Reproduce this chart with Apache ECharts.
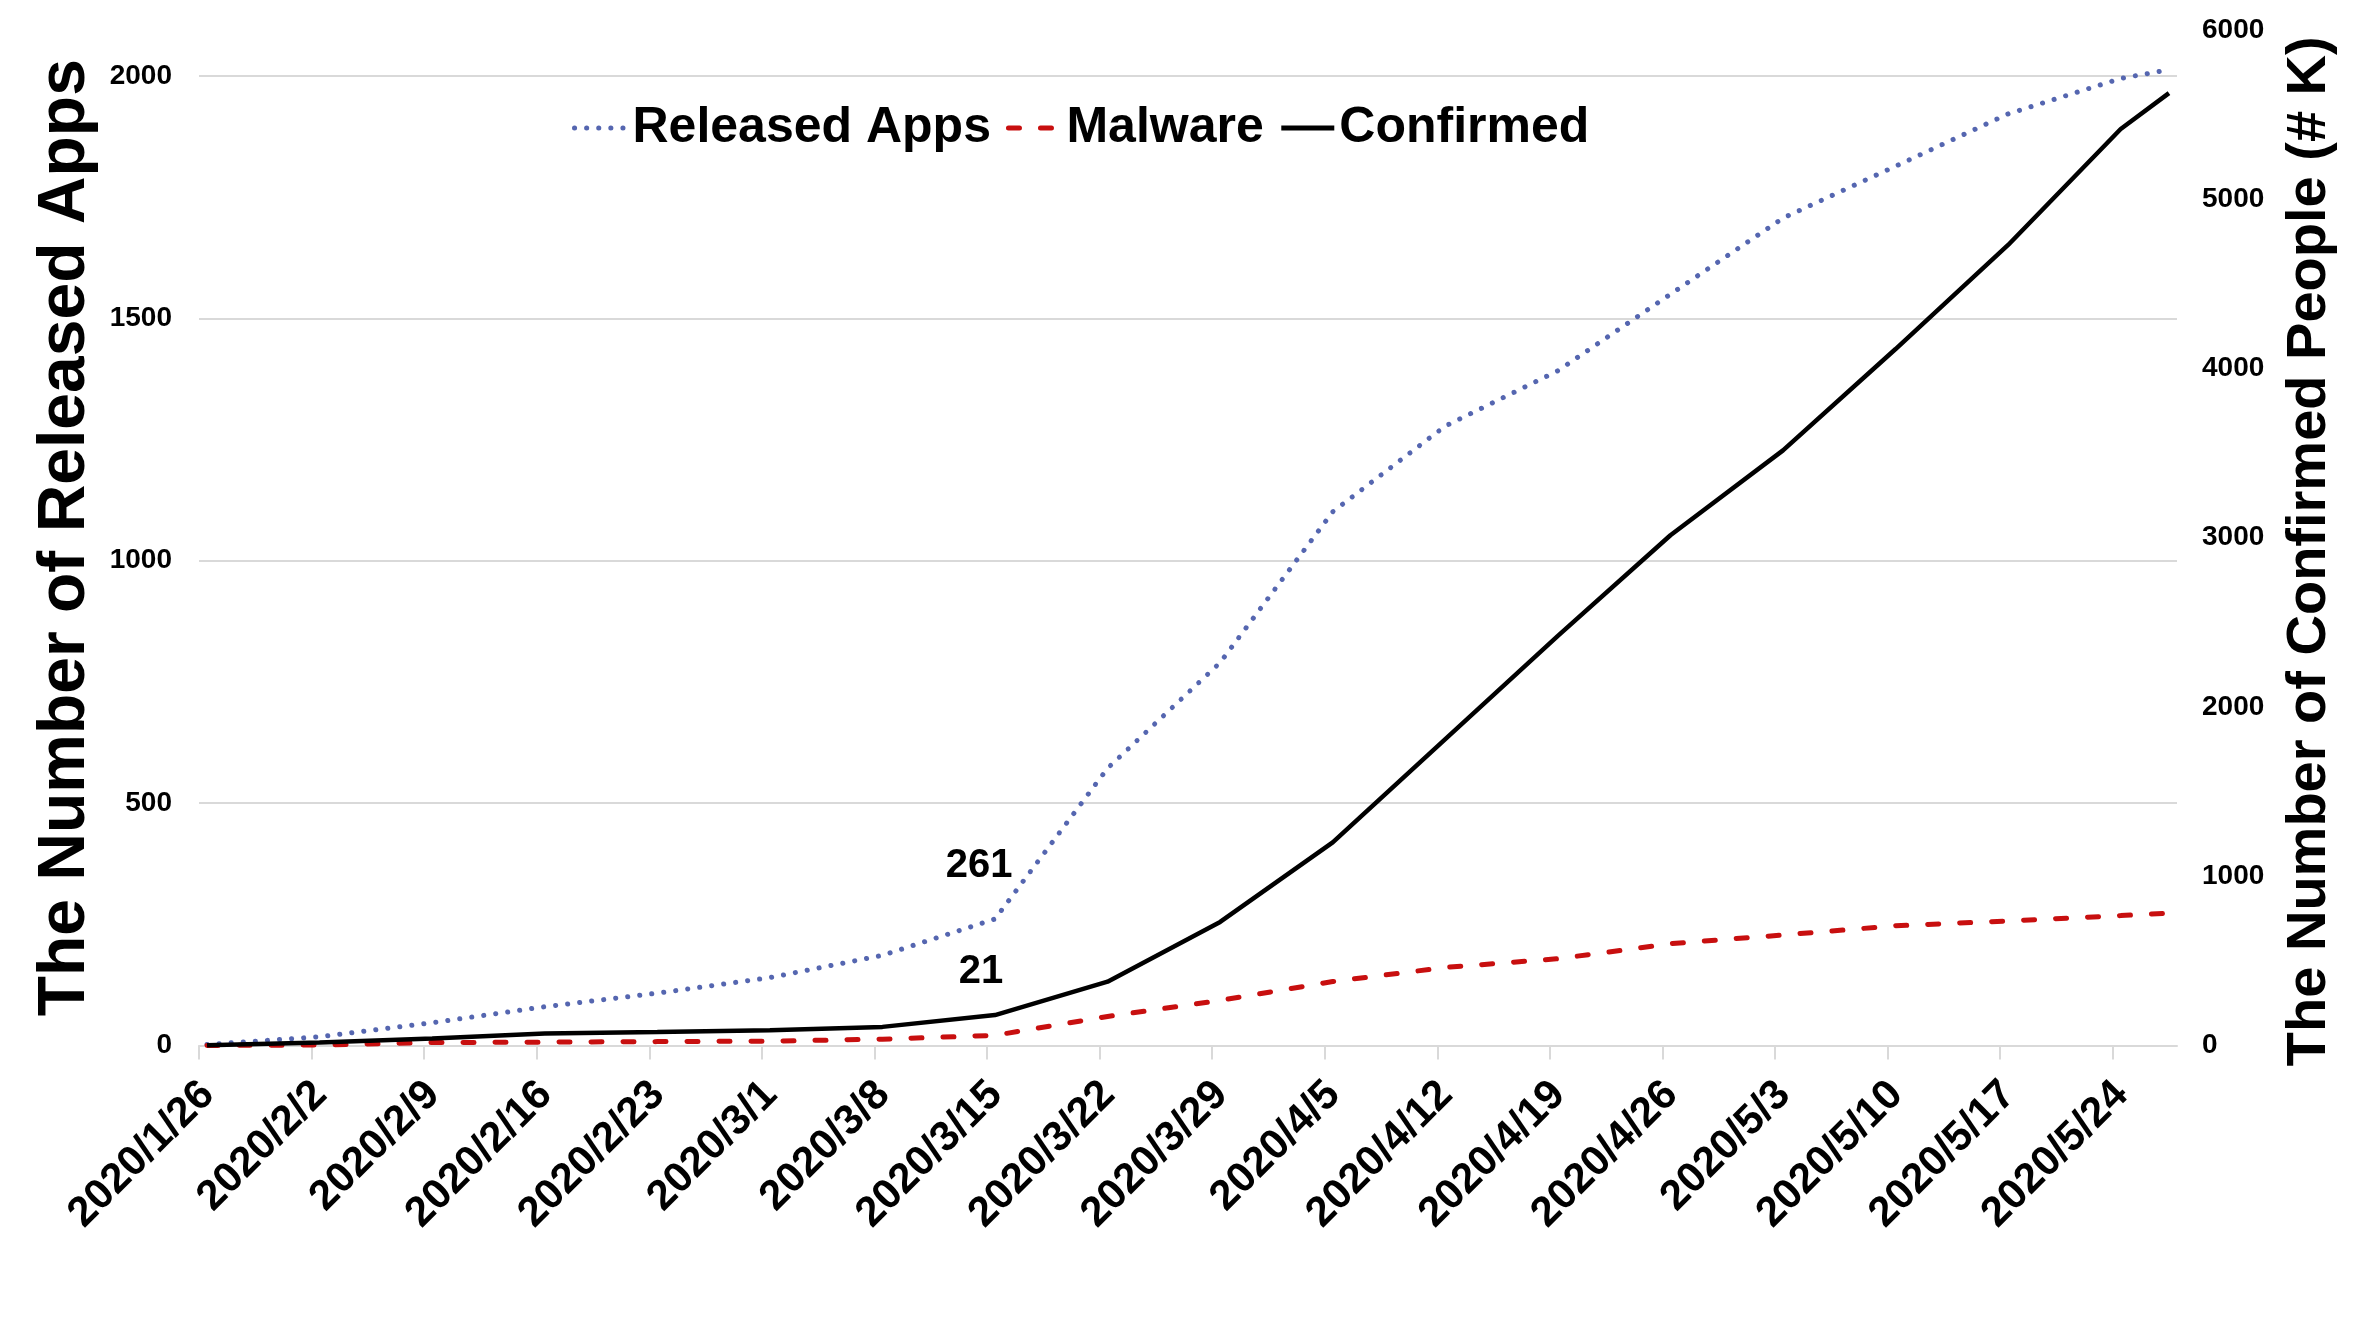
<!DOCTYPE html>
<html>
<head>
<meta charset="utf-8">
<script src="https://cdn.jsdelivr.net/npm/echarts@6/dist/echarts.min.js"></script>
<style>
html,body{margin:0;padding:0;background:#fff;}
#chart{width:2364px;height:1329px;}
</style>
</head>
<body>
<div id="chart"></div>
<script>
// ---- data ----
const tickLabels = ['2020/1/26','2020/2/2','2020/2/9','2020/2/16','2020/2/23','2020/3/1','2020/3/8','2020/3/15','2020/3/22','2020/3/29','2020/4/5','2020/4/12','2020/4/19','2020/4/26','2020/5/3','2020/5/10','2020/5/17','2020/5/24'];
const pointDates = ['2020/1/26','2020/2/2','2020/2/9','2020/2/16','2020/2/23','2020/3/1','2020/3/8','2020/3/15','2020/3/22','2020/3/29','2020/4/5','2020/4/12','2020/4/19','2020/4/26','2020/5/3','2020/5/10','2020/5/17','2020/5/24','2020/5/27'];
const releasedApps = [2, 18, 47, 80, 108, 140, 186, 261, 572, 790, 1101, 1278, 1392, 1550, 1707, 1814, 1922, 1995, 2013];
const malware = [0, 1, 6, 7, 8, 9, 13, 21, 60, 93, 132, 161, 179, 210, 228, 247, 257, 268, 273];
const confirmedK = [2, 17, 42, 71, 80, 90, 110, 180, 377, 730, 1200, 1810, 2420, 3015, 3516, 4115, 4730, 5415, 5627];
const leftTicks = [0, 500, 1000, 1500, 2000];
const rightTicks = [0, 1000, 2000, 3000, 4000, 5000, 6000];
const seriesNames = ['Released Apps', 'Malware', 'Confirmed'];
const labelledDate = '2020/3/15';

// ---- helpers ----
function dayIndex(s) {
  const p = s.split('/').map(Number);
  const t0 = Date.UTC(2020, 0, 26);
  return Math.round((Date.UTC(p[0], p[1] - 1, p[2]) - t0) / 86400000);
}
const tickDays = tickLabels.map(dayIndex);
const labelByDay = {};
tickLabels.forEach((s, i) => { labelByDay[tickDays[i]] = s; });
const xMax = dayIndex(pointDates[pointDates.length - 1]) + 1;

const FONT = 'Liberation Sans, Arial, Helvetica, sans-serif';

function buildData(values, labelCfg) {
  return values.map((v, i) => {
    const item = { value: [dayIndex(pointDates[i]) + 0.5, v] };
    if (labelCfg && pointDates[i] === labelledDate) {
      item.symbol = 'circle';
      item.symbolSize = 0.01;
      item.label = Object.assign({ show: true, position: 'top', distance: 5, formatter: p => String(p.value[1]),
        fontSize: 40, fontWeight: 'bold', color: '#000', fontFamily: FONT }, labelCfg);
    }
    return item;
  });
}

const chart = echarts.init(document.getElementById('chart'), null, { renderer: 'canvas' });
chart.setOption({
  animation: false,
  backgroundColor: '#fff',
  textStyle: { fontFamily: FONT },
  legend: {
    data: seriesNames,
    left: 567, top: 98,
    itemWidth: 53, itemHeight: 14, itemGap: 15,
    itemStyle: { opacity: 0 },
    lineStyle: { width: 5 },
    textStyle: { fontSize: 50, fontWeight: 'bold', color: '#000', fontFamily: FONT }
  },
  grid: { left: 199, right: 187, top: 30, bottom: 283.5, containLabel: false, outerBoundsMode: 'none' },
  xAxis: {
    type: 'value', min: 0, max: xMax,
    axisLine: { show: true, lineStyle: { color: '#d9d9d9', width: 2 } },
    axisTick: { show: true, customValues: tickDays, length: 14, lineStyle: { color: '#d9d9d9', width: 2 } },
    splitLine: { show: false },
    axisLabel: {
      customValues: tickDays,
      formatter: v => labelByDay[Math.round(v)] || '',
      rotate: 45, margin: 34, verticalAlign: 'top', lineHeight: 25,
      fontSize: 42, fontWeight: 'bold', color: '#000', fontFamily: FONT
    }
  },
  yAxis: [
    {
      type: 'value', position: 'left', min: 0, max: 2095, interval: 500,
      name: 'The Number of Released Apps', nameLocation: 'middle', nameGap: 96, nameRotate: 90,
      nameTextStyle: { fontSize: 66, fontWeight: 'bold', color: '#000', fontFamily: FONT },
      axisLine: { show: false }, axisTick: { show: false },
      splitLine: { show: true, showMaxLine: false, lineStyle: { color: '#d9d9d9', width: 2 } },
      axisLabel: {
        margin: 27, fontSize: 28, fontWeight: 'bold', color: '#000', fontFamily: FONT,
        formatter: v => leftTicks.indexOf(v) >= 0 ? String(v) : ''
      }
    },
    {
      type: 'value', position: 'right', min: 0, max: 6000, interval: 1000,
      name: 'The Number of Confirmed People (# K)', nameLocation: 'middle', nameGap: 105, nameRotate: 90,
      nameTextStyle: { fontSize: 56, fontWeight: 'bold', color: '#000', fontFamily: FONT, padding: [0, 27, 0, 0] },
      axisLine: { show: false }, axisTick: { show: false },
      splitLine: { show: false },
      axisLabel: {
        margin: 25, fontSize: 28, fontWeight: 'bold', color: '#000', fontFamily: FONT,
        formatter: v => rightTicks.indexOf(v) >= 0 ? String(v) : ''
      }
    }
  ],
  series: [
    {
      name: seriesNames[0], type: 'line', yAxisIndex: 0, symbol: 'none', clip: false,
      lineStyle: { color: '#5566b0', width: 5, type: [0.1, 12], cap: 'round' },
      itemStyle: { color: '#5566b0' },
      data: buildData(releasedApps, { offset: [-16, -28] })
    },
    {
      name: seriesNames[1], type: 'line', yAxisIndex: 0, symbol: 'none', clip: false,
      lineStyle: { color: '#c80f0f', width: 5, type: [11, 21], cap: 'round' },
      itemStyle: { color: '#c80f0f' },
      data: buildData(malware, { offset: [-14, -38] })
    },
    {
      name: seriesNames[2], type: 'line', yAxisIndex: 1, symbol: 'none', clip: false,
      lineStyle: { color: '#000', width: 4.5, type: 'solid' },
      itemStyle: { color: '#000' },
      data: buildData(confirmedK, null)
    }
  ]
});
</script>
</body>
</html>
